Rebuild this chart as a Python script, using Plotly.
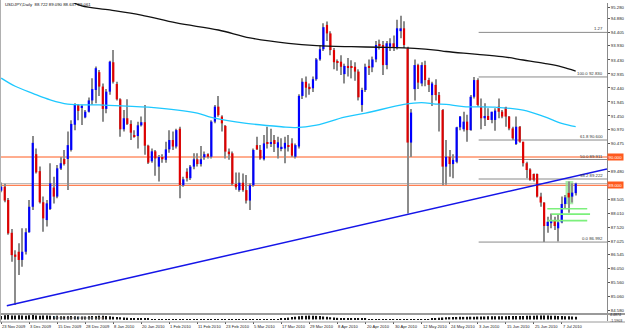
import plotly.graph_objects as go

# ---------------- data ----------------
opens = [88.81, 88.95, 88.48, 87.32, 86.55, 86.65, 86.36, 86.65, 87.34, 88.24,
         90.10, 89.50, 88.40, 87.77, 88.16, 88.92, 88.60, 89.59, 89.93, 89.93,
         90.25, 91.14, 91.84, 91.75, 91.40, 91.60, 92.00, 92.37, 93.00, 92.49,
         91.70, 92.31, 93.35, 92.58, 92.04, 90.98, 91.37, 91.17, 90.77, 90.74,
         91.12, 91.23, 90.40, 89.85, 90.20, 89.66, 90.00, 89.90, 90.27, 90.60,
         90.37, 91.00, 89.00, 89.48, 89.25, 89.66, 89.92, 89.75, 89.99, 90.10,
         90.01, 91.25, 91.78, 91.43, 91.10, 90.19, 90.13, 89.05, 88.83, 89.09,
         88.83, 88.46, 89.00, 90.42, 90.25, 89.92, 90.50, 90.48, 90.60, 90.33,
         90.29, 90.30, 90.42, 90.48, 90.01, 90.37, 92.16, 92.66, 92.48, 92.43,
         92.75, 93.45, 93.81, 94.67, 94.37, 93.78, 93.37, 93.37, 92.93, 93.22,
         93.20, 93.19, 93.02, 91.84, 92.37, 93.22, 93.17, 93.45, 94.00, 93.96,
         93.25, 93.90, 94.02, 93.87, 94.45, 94.55, 93.84, 90.51, 92.40, 93.25,
         92.60, 93.25, 92.72, 92.19, 92.55, 92.19, 91.66, 89.66, 90.01, 89.75,
         89.83, 91.05, 90.98, 91.25, 90.95, 92.13, 92.72, 91.78, 91.37, 91.45,
         91.31, 91.31, 91.78, 91.60, 91.76, 91.43, 91.01, 90.46, 91.07, 90.54,
         89.78, 89.56, 89.40, 89.40, 88.60, 88.39, 87.56, 87.66, 87.75, 87.48,
         87.69, 88.34, 88.73, 88.60, 88.722]
highs = [89.10, 89.05, 88.55, 87.45, 86.70, 86.95, 87.48, 87.48, 88.48, 90.74,
         90.30, 89.66, 88.60, 88.48, 89.78, 89.30, 89.72, 90.00, 90.25, 90.90,
         91.30, 91.90, 91.87, 91.85, 91.66, 92.10, 92.78, 93.20, 93.08, 92.60,
         92.40, 93.40, 93.78, 92.66, 92.08, 91.66, 92.04, 91.30, 90.95, 91.25,
         91.43, 91.84, 90.43, 90.30, 90.25, 90.07, 90.10, 90.54, 90.95, 90.90,
         91.00, 91.07, 89.30, 89.60, 89.72, 90.13, 90.13, 90.39, 90.19, 90.13,
         91.30, 91.84, 92.16, 91.48, 91.13, 90.30, 90.19, 89.45, 89.45, 89.42,
         89.36, 89.07, 90.30, 90.72, 90.42, 90.78, 91.07, 91.00, 90.78, 90.72,
         90.66, 90.72, 90.78, 90.66, 90.48, 92.22, 92.78, 92.85, 92.60, 92.85,
         93.50, 93.95, 94.73, 94.79, 94.45, 93.85, 93.45, 93.60, 93.30, 93.50,
         93.42, 93.35, 93.10, 92.45, 93.30, 93.45, 93.55, 94.10, 94.15, 94.10,
         94.10, 94.20, 94.30, 94.85, 94.99, 94.80, 93.90, 91.70, 93.45, 93.30,
         93.35, 93.40, 92.80, 92.66, 92.75, 92.30, 91.70, 90.60, 90.25, 90.10,
         91.07, 91.45, 91.60, 91.49, 92.19, 92.83, 92.78, 92.07, 91.90, 91.72,
         91.60, 91.72, 92.07, 91.66, 91.78, 91.45, 91.07, 91.43, 91.10, 90.54,
         89.83, 89.60, 89.42, 89.42, 88.74, 88.40, 87.89, 88.00, 87.89, 87.95,
         88.60, 88.66, 89.13, 89.07, 89.090]
lows = [88.75, 88.40, 87.25, 86.30, 84.77, 85.83, 86.12, 86.55, 87.32, 88.13,
        89.42, 88.36, 87.36, 87.54, 88.13, 88.36, 88.54, 89.54, 89.70, 88.83,
        90.19, 90.95, 91.30, 91.13, 91.37, 91.57, 91.85, 91.90, 92.16, 91.25,
        91.55, 92.20, 92.60, 92.00, 90.72, 90.90, 91.13, 90.60, 90.68, 90.30,
        91.08, 90.08, 89.75, 89.80, 89.34, 89.13, 89.80, 89.80, 90.15, 90.25,
        90.30, 88.54, 88.95, 89.13, 89.19, 89.57, 89.66, 89.66, 89.90, 89.95,
        89.95, 91.19, 91.42, 90.90, 89.95, 89.90, 89.00, 88.84, 88.77, 88.77,
        88.36, 88.13, 88.95, 90.25, 89.90, 89.88, 90.30, 90.35, 90.18, 89.95,
        90.20, 89.78, 90.19, 90.00, 89.95, 90.30, 92.05, 92.10, 92.20, 92.30,
        92.70, 93.40, 93.75, 94.10, 93.60, 93.10, 93.05, 92.90, 92.60, 92.85,
        92.78, 92.70, 92.00, 91.60, 92.30, 92.90, 93.00, 93.35, 93.80, 92.90,
        93.10, 93.75, 93.75, 93.80, 94.20, 93.85, 88.00, 90.00, 92.00, 92.40,
        92.50, 92.50, 92.30, 91.80, 92.00, 90.90, 89.00, 89.02, 89.30, 89.25,
        89.78, 90.95, 90.90, 90.54, 90.93, 92.07, 91.78, 90.98, 91.10, 91.31,
        91.19, 90.93, 91.37, 91.37, 91.07, 90.95, 90.60, 90.42, 90.50, 89.66,
        89.25, 89.16, 89.13, 88.57, 88.24, 86.992, 87.32, 87.48, 87.42, 87.01,
        87.66, 88.18, 88.03, 88.39, 88.637]
closes = [88.95, 88.46, 87.30, 86.53, 86.47, 86.36, 86.65, 87.34, 88.24, 90.50,
          89.46, 88.40, 87.83, 88.36, 89.07, 88.60, 89.60, 89.78, 89.75, 90.42,
          91.17, 91.84, 91.63, 91.78, 91.60, 92.00, 92.40, 93.14, 92.49, 91.70,
          92.31, 93.37, 92.66, 92.04, 90.98, 91.37, 91.17, 90.86, 90.74, 91.12,
          91.23, 90.40, 89.80, 90.20, 89.95, 90.00, 89.92, 90.27, 90.60, 90.37,
          90.95, 89.01, 89.21, 89.25, 89.66, 89.92, 89.75, 89.92, 90.10, 90.01,
          91.25, 91.78, 91.48, 91.19, 90.19, 90.10, 89.05, 88.93, 89.09, 88.83,
          88.46, 89.00, 90.25, 90.27, 89.95, 90.48, 90.47, 90.53, 90.46, 90.52,
          90.36, 90.50, 90.38, 90.05, 90.42, 92.16, 92.66, 92.45, 92.40, 92.75,
          93.45, 93.81, 94.59, 94.37, 93.78, 93.35, 93.34, 93.19, 93.22, 93.17,
          93.17, 93.02, 92.11, 92.37, 93.19, 93.17, 93.45, 93.96, 93.94, 93.25,
          94.02, 94.02, 93.87, 94.55, 94.55, 93.96, 90.51, 91.57, 93.25, 92.63,
          93.25, 92.72, 92.55, 92.60, 92.19, 91.84, 89.66, 90.01, 89.75, 89.90,
          91.05, 91.43, 91.25, 90.95, 92.13, 92.72, 91.84, 91.37, 91.45, 91.31,
          91.60, 91.64, 91.60, 91.43, 91.43, 91.01, 90.66, 91.07, 90.54, 89.78,
          89.54, 89.19, 89.19, 88.60, 88.39, 87.56, 87.71, 87.75, 87.56, 87.69,
          88.34, 88.57, 88.57, 88.74, 89.061]

# lower indicator window (histogram), rough reading
sub_vals = [3.6, 4.2, 4.4, 4.1, 3.9, 4.2, 4.0, 3.7, 4.3, 4.4,
            4.1, 3.8, 3.9, 4.1, 3.8, 3.6, 3.7, 3.3, 3.1, 3.3,
            3.5, 3.2, 2.9, 3.0, 2.9, 3.2, 3.4, 3.6, 3.8, 3.7,
            3.5, 3.2, 2.8, 2.5, 2.2, 2.0, 1.8, 1.5, 1.2, 1.0,
            0.8, 0.6, 0.5, 0.4, 0.3, 0.3, 0.2, 0.2, 0.2, 0.2,
            0.2, 0.2, 0.2, 0.2, 0.2, 0.2, 0.2, 0.2, 0.2, 0.2,
            0.2, 0.2, 0.2, 0.2, 0.2, 0.2, 0.2, 0.2, 0.2, 0.2,
            0.2, 0.2, 0.2, 0.2, 0.2, 0.2, 0.2, 0.2, 0.2, 0.4,
            0.8, 1.2, 1.8, 2.4, 2.8, 3.2, 3.6, 3.8, 3.9, 3.8,
            3.6, 3.4, 3.0, 2.6, 2.2, 1.9, 1.6, 1.4, 1.2, 1.0,
            0.9, 0.8, 0.7, 0.6, 0.5, 0.4, 0.3, 0.3, 0.3, 0.2,
            0.2, 0.2, 0.2, 0.2, 0.2, 0.2, 0.2, 0.2, 0.2, 0.2,
            0.2, 0.2, 0.4, 0.8, 1.2, 1.6, 2.0, 2.2, 2.3, 2.4,
            2.5, 2.6, 2.6, 2.7, 2.8, 2.8, 2.9, 3.0, 3.0, 3.1,
            3.1, 3.2, 3.2, 3.3, 3.3, 3.4, 3.4, 3.5, 3.6, 3.6,
            3.7, 3.8, 3.8, 3.9, 3.9, 4.0, 3.9, 3.8, 3.7, 3.6,
            3.5, 3.3, 3.1, 2.9, 2.7]
sub_ticks = [4.4874, -1.5903]

date_bars = [0, 8, 16, 24, 32, 40, 48, 56, 64, 72, 80, 88, 96, 104, 112, 120,
             128, 136, 144, 152, 160]
date_labels = ["23 Nov 2009", "3 Dec 2009", "15 Dec 2009", "28 Dec 2009",
               "8 Jan 2010", "20 Jan 2010", "1 Feb 2010", "11 Feb 2010",
               "23 Feb 2010", "5 Mar 2010", "17 Mar 2010", "29 Mar 2010",
               "8 Apr 2010", "20 Apr 2010", "30 Apr 2010", "12 May 2010",
               "24 May 2010", "3 Jun 2010", "15 Jun 2010", "25 Jun 2010",
               "7 Jul 2010"]

price_ticks = [95.280, 94.880, 94.405, 93.930, 93.430, 92.935, 92.440, 91.945,
               91.450, 90.970, 90.475, 89.480, 88.505, 88.010, 87.520, 87.025,
               86.545, 86.050, 85.560, 85.060, 84.580]

ma_slow_bars = [20, 23, 31, 40, 50, 62, 71, 82, 90, 100, 108, 118, 124, 127,
                132, 136, 143, 149, 155, 160, 164]
ma_slow_vals = [95.50, 95.34, 95.20, 95.02, 94.74, 94.49, 94.21, 94.02, 93.94,
                93.90, 93.88, 93.84, 93.78, 93.73, 93.67, 93.63, 93.55, 93.43,
                93.31, 93.19, 93.04]
ma_fast_bars = [0, 4, 9, 14, 19, 28, 42, 56, 60, 70, 80, 84, 90, 98, 104, 115,
                120, 124, 127, 132, 141, 149, 155, 160, 164]
ma_fast_vals = [92.79, 92.50, 92.25, 92.02, 91.87, 91.84, 91.76, 91.55, 91.40,
                91.19, 91.07, 91.04, 91.13, 91.41, 91.55, 91.86, 91.92, 91.87,
                91.86, 91.78, 91.76, 91.66, 91.43, 91.19, 91.07]

trend_bars = [1.6, 116.0]
trend_prices = [84.74, 87.97]

fib_low = 86.992
fib_high = 92.830
fib_start_bar = 136.3
fib_levels = [0.0, 38.2, 50.0, 61.8, 100.0, 127.0]
fib_names = ["0.0 86.992", "38.2 89.222", "50.0 89.911", "61.8 90.600",
             "100.0 92.830", "1.27"]

hline_prices = [90.000, 89.000]
hline_labels = ["90.000", "89.000"]
bid_price = 89.061

green_rect = dict(x0=161.1, x1=163.3, y0=88.33, y1=89.15)
green_y = [88.17, 87.98, 87.75]
green_x0 = [155.9, 157.1, 155.9]
green_x1 = [167.3, 168.1, 167.3]

header = "USDJPY,Daily  88.722 89.090 88.637 89.061"
watermark = "MetaQuotes Software Corp."

# ---------------- figure ----------------
W, H = 625, 330
X_MIN, X_MAX = -0.343, 172.94
Y_MIN, Y_MAX = 84.484, 95.445
FONT = "Liberation Sans"

n = len(opens)
idx = list(range(n))
bull = [c >= o for o, c in zip(opens, closes)]
body_base = [min(o, c) for o, c in zip(opens, closes)]
body_h = [max(abs(c - o), 0.03) for o, c in zip(opens, closes)]
wick_h = [h - l for h, l in zip(highs, lows)]
body_col = ["#0000ff" if b else "#e00000" for b in bull]

fig = go.Figure()

# wicks
fig.add_trace(go.Bar(x=idx, y=wick_h, base=lows, width=0.3,
                     marker=dict(color="#8c8c8c", line=dict(width=0)),
                     hoverinfo="skip", showlegend=False))
# bodies
fig.add_trace(go.Bar(x=idx, y=body_h, base=body_base, width=0.62,
                     marker=dict(color=body_col, line=dict(width=0)),
                     showlegend=False))

# moving averages
fig.add_trace(go.Scatter(x=ma_slow_bars, y=ma_slow_vals, mode="lines",
                         line=dict(color="#111111", width=1.3, shape="spline"),
                         showlegend=False))
fig.add_trace(go.Scatter(x=ma_fast_bars, y=ma_fast_vals, mode="lines",
                         line=dict(color="#1ec8ff", width=1.3, shape="spline"),
                         showlegend=False))

# trend line (ray to the right edge)
slope = (trend_prices[1] - trend_prices[0]) / (trend_bars[1] - trend_bars[0])
fig.add_trace(go.Scatter(x=[trend_bars[0], X_MAX],
                         y=[trend_prices[0], trend_prices[0] + slope * (X_MAX - trend_bars[0])],
                         mode="lines", line=dict(color="#1515e8", width=1.5),
                         showlegend=False))

# lower window histogram
fig.add_trace(go.Bar(x=idx, y=sub_vals, base=0, width=0.35, yaxis="y2",
                     marker=dict(color="#111111", line=dict(width=0)),
                     hoverinfo="skip", showlegend=False))

shapes = []
annotations = []

# horizontal orange lines
for p in hline_prices:
    shapes.append(dict(type="line", xref="x", yref="y", x0=X_MIN, x1=X_MAX,
                       y0=p, y1=p, line=dict(color="#ff5a1e", width=1), layer="below"))
shapes.append(dict(type="line", xref="x", yref="y", x0=X_MIN, x1=X_MAX,
                   y0=bid_price, y1=bid_price, line=dict(color="#b8b8b8", width=1), layer="below"))

# fibonacci
for lev, name in zip(fib_levels, fib_names):
    p = fib_low + (fib_high - fib_low) * lev / 100.0
    shapes.append(dict(type="line", xref="x", yref="y", x0=fib_start_bar, x1=X_MAX,
                       y0=p, y1=p, line=dict(color="#8a8a8a", width=1), layer="below"))
    annotations.append(dict(x=172.3, y=p, xref="x", yref="y", text=name,
                            showarrow=False, xanchor="right", yanchor="bottom",
                            yshift=-1, font=dict(size=4.3, color="#333333", family=FONT)))

# green objects
shapes.append(dict(type="rect", xref="x", yref="y", layer="below",
                   line=dict(width=0), fillcolor="rgba(140,235,140,0.75)", **green_rect))
for y, a, b in zip(green_y, green_x0, green_x1):
    shapes.append(dict(type="line", xref="x", yref="y", x0=a, x1=b, y0=y, y1=y,
                       line=dict(color="#7cf07c", width=1.6)))

# window separators / borders
shapes.append(dict(type="line", xref="paper", yref="paper", x0=0, x1=1,
                   y0=1 - 314 / H, y1=1 - 314 / H, line=dict(color="#9a9a9a", width=2)))
shapes.append(dict(type="line", xref="paper", yref="paper", x0=0.0008, x1=0.0008,
                   y0=1 - 322 / H, y1=1, line=dict(color="#b0b0b0", width=1)))
shapes.append(dict(type="line", xref="paper", yref="paper", x0=0, x1=1,
                   y0=1 - 322 / H, y1=1 - 322 / H, line=dict(color="#9a9a9a", width=1)))

# price labels of horizontal lines
for p, t in zip(hline_prices, hline_labels):
    annotations.append(dict(x=607 / W, y=p, xref="paper", yref="y", text=t,
                            showarrow=False, xanchor="left", yanchor="middle",
                            bgcolor="#ff5a1e", borderpad=0.5,
                            font=dict(size=4.3, color="white", family=FONT)))

# lower window scale labels
for v in sub_ticks:
    annotations.append(dict(x=608 / W, y=v, xref="paper", yref="y2", text="%.4f" % v,
                            showarrow=False, xanchor="left", yanchor="middle",
                            font=dict(size=3.6, color="#222222", family=FONT)))

# date labels
for b, t in zip(date_bars, date_labels):
    annotations.append(dict(x=b, y=1 - 326 / H, xref="x", yref="paper", text=t,
                            showarrow=False, xanchor="left", yanchor="middle", xshift=-1,
                            font=dict(size=4.1, color="#222222", family=FONT)))

annotations.append(dict(x=3 / W, y=1 - 4.5 / H, xref="paper", yref="paper", text=header,
                        showarrow=False, xanchor="left", yanchor="middle",
                        font=dict(size=4.3, color="#111111", family=FONT)))
annotations.append(dict(x=107 / W, y=1 - 317.5 / H, xref="paper", yref="paper",
                        text=watermark, showarrow=False, xanchor="right", yanchor="middle",
                        font=dict(size=4.1, color="#9a9a9a", family=FONT)))

fig.update_layout(
    width=W, height=H,
    margin=dict(l=0, r=0, t=0, b=0),
    paper_bgcolor="white", plot_bgcolor="white",
    barmode="overlay", showlegend=False,
    shapes=shapes, annotations=annotations,
    xaxis=dict(domain=[0, 607 / W], range=[X_MIN, X_MAX], anchor="y2",
               showgrid=False, zeroline=False, showticklabels=False,
               tickvals=date_bars, ticks="outside", ticklen=2, tickcolor="#555555",
               showline=False),
    yaxis=dict(domain=[1 - 313 / H, 1 - 3 / H], range=[Y_MIN, Y_MAX], side="right",
               anchor="x", showgrid=False, zeroline=False,
               tickvals=price_ticks, ticktext=["%.3f" % v for v in price_ticks],
               ticks="outside", ticklen=2, tickcolor="#555555",
               tickfont=dict(size=4.3, color="#222222", family=FONT),
               showline=True, linecolor="#8a8a8a", linewidth=1),
    yaxis2=dict(domain=[1 - 321 / H, 1 - 315 / H], range=[-1.5903, 4.4874], side="right",
                anchor="x", showgrid=False, zeroline=False, showticklabels=False,
                showline=True, linecolor="#8a8a8a", linewidth=1),
)

fig.write_html("out.html")
